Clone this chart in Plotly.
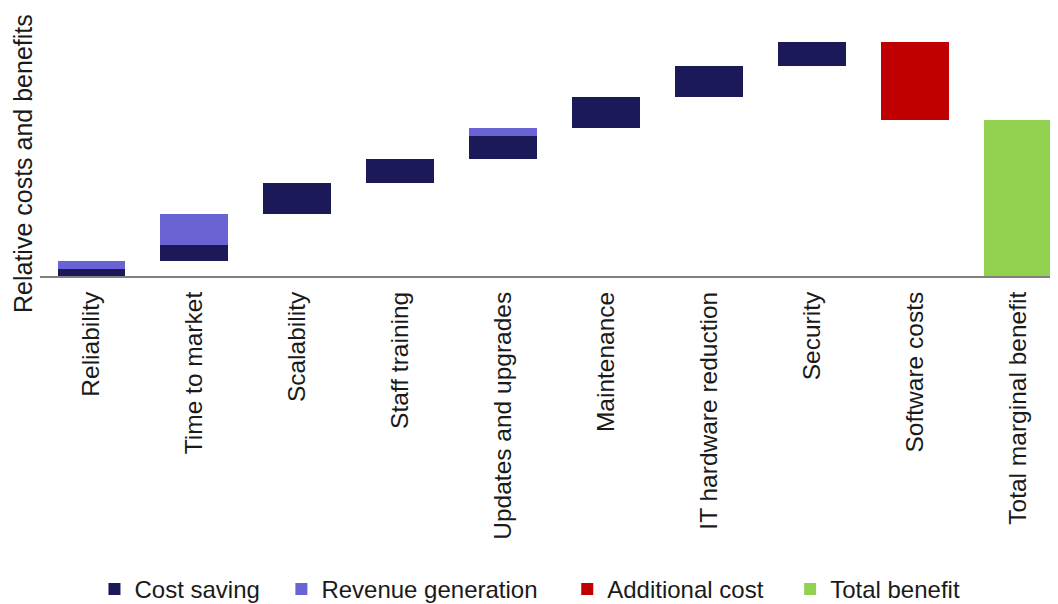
import plotly.graph_objects as go

categories = ["Reliability", "Time to market", "Scalability", "Staff training",
              "Updates and upgrades", "Maintenance", "IT hardware reduction",
              "Security", "Software costs", "Total marginal benefit"]
cost_saving = [4.5, 10.3, 19.9, 15.4, 14.7, 20.1, 20.1, 15.1, 0, 0]
revenue_generation = [5.1, 19.9, 0, 0, 4.9, 0, 0, 0, 0, 0]
additional_cost = [0, 0, 0, 0, 0, 0, 0, 0, 50, 0]
total_benefit = [0, 0, 0, 0, 0, 0, 0, 0, 0, 100]

# invisible waterfall offsets
base = []
running = 0.0
for c, r, a, t in zip(cost_saving, revenue_generation, additional_cost, total_benefit):
    if t:
        base.append(0)
        continue
    running -= a
    base.append(running)
    running += c + r

# page body has an 8px margin: figure is laid out in coordinates shifted by 8px
OFF = 8
FIG_W, FIG_H = 1058 - OFF, 604
PL = 39.5 - OFF          # plot left (figure px)
PB = 276 - OFF           # plot bottom (figure px)
PT = 20 - OFF            # plot top
PW = FIG_W - PL
PH = PB - PT

def px_x(page_x):
    return (page_x - OFF - PL) / PW

def px_y(page_y):
    return (PB - (page_y - OFF)) / PH

x = list(range(len(categories)))
fig = go.Figure()
fig.add_trace(go.Bar(x=x, y=base, marker=dict(color="rgba(0,0,0,0)", line=dict(width=0)),
                     showlegend=False, hoverinfo="skip"))
fig.add_trace(go.Bar(x=x, y=cost_saving, name="Cost saving", legend="legend",
                     marker=dict(color="#1b1958", line=dict(width=0))))
fig.add_trace(go.Bar(x=x, y=revenue_generation, name="Revenue generation", legend="legend2",
                     marker=dict(color="#6a63d3", line=dict(width=0))))
fig.add_trace(go.Bar(x=x, y=additional_cost, name="Additional cost", legend="legend3",
                     marker=dict(color="#c00000", line=dict(width=0))))
fig.add_trace(go.Bar(x=x, y=total_benefit, name="Total benefit", legend="legend4",
                     marker=dict(color="#92d050", line=dict(width=0))))

legend_text_x = [132, 319, 605, 828]
leg_common = dict(orientation="h", xanchor="left", yanchor="middle",
                  font=dict(size=24), itemwidth=30, bgcolor="rgba(0,0,0,0)")
legends = {}
for i, tx in enumerate(legend_text_x):
    key = "legend" if i == 0 else f"legend{i+1}"
    legends[key] = dict(leg_common, x=px_x(tx - 38), y=px_y(590))

fig.update_layout(
    width=FIG_W, height=FIG_H, autosize=False,
    margin=dict(l=PL, r=0, t=PT, b=FIG_H - PB, pad=0),
    barmode="stack", bargap=0.34,
    plot_bgcolor="white", paper_bgcolor="white",
    font=dict(family="Liberation Sans, Arial, sans-serif", color="#1a1a1a"),
    xaxis=dict(range=[-0.5, 9.388], tickmode="array", tickvals=x, ticktext=categories,
               tickangle=-90, tickfont=dict(size=24.5), showgrid=False, zeroline=False,
               showline=True, linecolor="#808080", linewidth=2, ticks="",
               ticklabelstandoff=4),
    yaxis=dict(range=[0, PH / 1.56], showticklabels=False, showgrid=False, zeroline=False,
               showline=False, ticks=""),
    annotations=[dict(text="Relative costs and benefits", textangle=-90,
                      xref="paper", yref="paper", x=px_x(22.5),
                      y=px_y(164), xanchor="center", yanchor="middle",
                      showarrow=False, font=dict(size=25))],
    **legends,
)
fig.write_html("out.html")
